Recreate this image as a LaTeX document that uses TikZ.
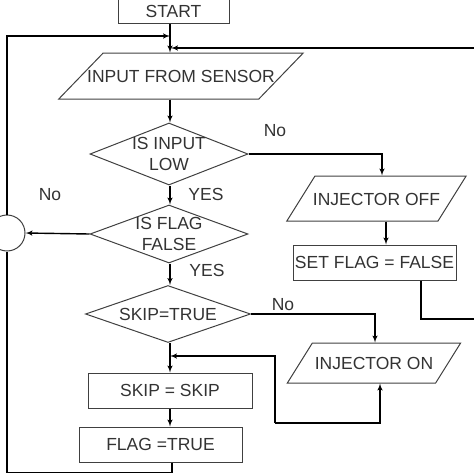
\documentclass[tikz,border=0pt]{standalone}
\usepackage{fontspec}
\setmainfont{Liberation Sans}
\usetikzlibrary{shapes.geometric}
\usetikzlibrary{arrows}
\usetikzlibrary{calc}
\tikzset{
  box/.style={draw=black!75, line width=1pt, minimum height=35pt, inner sep=0pt},
  dec/.style={draw=black!75, line width=1pt, diamond, inner sep=0pt},
  io/.style={draw=black!75, line width=1pt, trapezium, trapezium stretches body=true,
    trapezium left angle=58, trapezium right angle=122,
    text height=13pt, text depth=0pt},
  flow/.style={line width=1.4pt, black}
}

\begin{document}
\begin{tikzpicture}[x=1pt, y=-1pt, >=latex', thick, text=black!80,
    font=\fontsize{17.5}{21}\selectfont]
      \useasboundingbox (0,0) rectangle (474,474);
      \clip (0,0) rectangle (474,474);
      \coordinate (ax) at (170,0);

      \node at (173.5,11.5)
      [draw=black!75, line width=1pt, minimum width=111pt, minimum height=24pt, inner sep=0pt, name=start]
      {START};
      \node at (181,76)
      [io, trapezium left angle=46, trapezium right angle=134, inner xsep=-16pt, inner ysep=16.5pt, name=inp]
      {INPUT FROM SENSOR};

      \node at (169,154)
      [dec, minimum width=158pt, minimum height=62pt, name=q1,
       label={[align=center]center:IS INPUT\\LOW}] {};
      \node at (169,234)
      [dec, minimum width=158pt, minimum height=58pt, name=q2,
       label={[align=center]center:IS FLAG\\FALSE}] {};
      \node at (168,314)
      [dec, minimum width=165pt, minimum height=57pt, name=q3,
       label={center:SKIP=TRUE}] {};

      \node at (170,390.5) [box, minimum width=164pt, name=skip] {SKIP = SKIP};
      \node at (160.5,444.5) [box, minimum width=163pt, name=flagt] {FLAG =TRUE};

      \node at (376.5,198.5)
      [io, inner xsep=-2pt, inner ysep=16pt, name=injoff]
      {INJECTOR OFF};
      \node at (374.5,262.5) [box, minimum width=163pt, name=setf] {SET FLAG = FALSE};
      \node at (374,363)
      [io, inner xsep=2.5pt, inner ysep=13.5pt, name=injon]
      {INJECTOR ON};

      \node [draw=black!75, line width=1pt, circle, minimum size=36pt, inner sep=0pt, name=conn] at (7,233) {};

      % labels on the branches
      \node at (275,131) [name=no1] {No};
      \node at (206,194) [name=yes1] {YES};
      \node at (50,195) [name=no2] {No};
      \node at (207,270) [name=yes2] {YES};
      \node at (283,305) [name=no3] {No};

      \coordinate (back1) at (170,36);
      \coordinate (back2) at (171,48);
      \coordinate (offin) at (382,0);
      \coordinate (onin) at (375,0);
      \coordinate (loop) at (275,423);
      \coordinate (jn) at (170,356);

      \draw [->, flow] (start.south -| ax) -- (inp.north -| ax);
      \draw [->, flow] (inp.south -| ax) -- (q1.north -| ax);
      \draw [->, flow] (q1.south -| ax) -- (q2.north -| ax);
      \draw [->, flow] (q2.south -| ax) -- (q3.north -| ax);
      \draw [->, flow] (q3.south -| ax) -- (skip.north -| ax);
      \draw [->, flow] (skip.south -| ax) -- (flagt.north -| ax);

      \draw [->, flow] (q1.east) -| (injoff.north -| offin);
      \draw [->, flow] (injoff.south -| 386,0) -- (setf.north -| 386,0);
      \draw [->, flow] (q3.east) -| (injon.north -| onin);
      \draw [->, flow] (q2.west) -- (conn.east);

      \draw [flow] (flagt.south -| 172,0) -- ++(0,10) -| (conn.south);
      \draw [->, flow] (conn.north) |- (back1);
      \draw [->, flow] (setf.south -| 421,0) |- (480,319) |- (back2);
      \draw [->, flow] (loop) |- (jn);
      \draw [->, flow] (loop) -| (injon.south -| 380,0);
    \end{tikzpicture}
\end{document}
